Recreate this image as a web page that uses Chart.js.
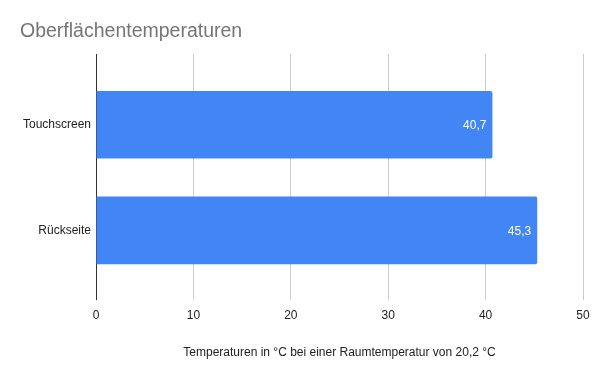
<!DOCTYPE html>
<html>
<head>
<meta charset="utf-8">
<script src="https://cdn.jsdelivr.net/npm/chart.js@4"></script>
<style>
  html, body { margin: 0; padding: 0; background: #fff; }
  #wrap { width: 600px; height: 371px; }
</style>
</head>
<body>
<div id="wrap"><canvas id="chart"></canvas></div>
<script>
// Daten
const kategorien = ['Touchscreen', 'Rückseite'];
const temperaturen = [40.7, 45.3];
const achsenTicks = [0, 10, 20, 30, 40, 50];

const schrift = "'Liberation Sans', Arial, sans-serif";

// Werte am Balkenende (weiße Schrift)
const balkenWerte = {
    id: 'balkenWerte',
    afterDatasetsDraw(chart) {
        const ctx = chart.ctx;
        const meta = chart.getDatasetMeta(0);
        ctx.save();
        ctx.font = '12px ' + schrift;
        ctx.fillStyle = '#ffffff';
        ctx.textAlign = 'right';
        ctx.textBaseline = 'middle';
        meta.data.forEach((bar, i) => {
            const txt = temperaturen[i].toLocaleString('de-DE');
            ctx.fillText(txt, bar.x - 6, bar.y + 1);
        });
        ctx.restore();
    }
};

const gitterFarbe = (c) => (c.tick && c.tick.value === 0) ? '#333333' : '#cccccc';

new Chart(document.getElementById('chart'), {
    type: 'bar',
    data: {
        labels: kategorien,
        datasets: [{
            data: temperaturen,
            backgroundColor: '#4285f4',
            borderRadius: 2,
            borderSkipped: 'start',
            categoryPercentage: 1,
            barPercentage: 0.64
        }]
    },
    options: {
        indexAxis: 'y',
        responsive: true,
        maintainAspectRatio: false,
        animation: false,
        layout: { padding: { left: 20, right: 17, top: 0, bottom: 0 } },
        plugins: {
            legend: { display: false },
            tooltip: { enabled: false },
            title: {
                display: true,
                text: 'Oberflächentemperaturen',
                align: 'start',
                color: '#757575',
                font: { family: schrift, size: 19.5, weight: 'normal' },
                padding: { top: 20, bottom: 10.6 }
            }
        },
        scales: {
            x: {
                position: 'bottom',
                min: 0,
                max: 50,
                afterBuildTicks: (s) => { s.ticks = achsenTicks.map(v => ({ value: v })); },
                grid: { color: gitterFarbe, tickColor: gitterFarbe, tickLength: 17, lineWidth: 1 },
                border: { display: false },
                ticks: { color: '#222', padding: 8, font: { family: schrift, size: 12 } },
                title: {
                    display: true,
                    text: 'Temperaturen in °C bei einer Raumtemperatur von 20,2 °C',
                    color: '#222',
                    font: { family: schrift, size: 12 },
                    padding: { top: 15, bottom: 11 }
                }
            },
            x2: {
                position: 'top',
                axis: 'x',
                min: 0,
                max: 50,
                afterBuildTicks: (s) => { s.ticks = achsenTicks.map(v => ({ value: v })); },
                grid: { color: gitterFarbe, tickColor: gitterFarbe, tickLength: 18, lineWidth: 1 },
                border: { display: false },
                ticks: { display: false }
            },
            y: {
                grid: { display: false, drawTicks: false },
                border: { display: false },
                afterFit: (s) => { s.width = 76; },
                ticks: { color: '#222', padding: 5, font: { family: schrift, size: 12 } }
            }
        }
    },
    plugins: [balkenWerte]
});
</script>
</body>
</html>
